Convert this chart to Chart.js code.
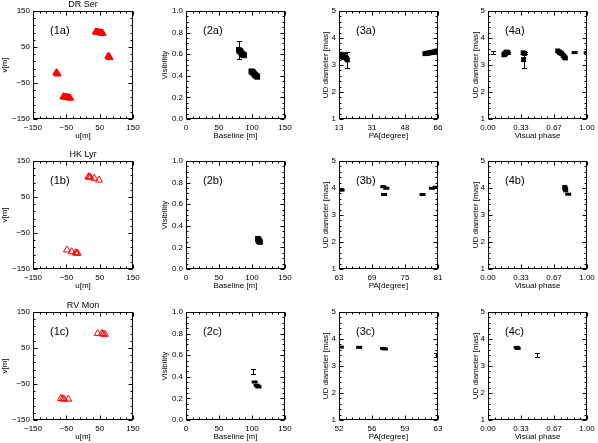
<!DOCTYPE html>
<html><head><meta charset="utf-8">
<script src="https://cdn.jsdelivr.net/npm/chart.js@4.4.1/dist/chart.umd.min.js"></script>
<style>
html,body{margin:0;padding:0;background:#fff;width:598px;height:443px;overflow:hidden;position:relative}
canvas{position:absolute;display:block}
</style></head><body>
<script>
// ---------------- tick labels ----------------
const uvTickLabels = ['−150','−50','50','150'];
const baselineTickLabels = ['0','50','100','150'];
const visTickLabels = ['0.0','0.2','0.4','0.6','0.8','1.0'];
const udTickLabels = ['1','2','3','4','5'];
const paTickLabelsA = ['13','31','48','66'];
const paTickLabelsB = ['63','69','75','81'];
const paTickLabelsC = ['52','56','59','63'];
const phaseTickLabels = ['0.00','0.33','0.67','1.00'];
const starNames = ['DR Ser','HK Lyr','RV Mon'];

// ---------------- (1) uv coverage [m] ----------------
const uvDrU = [38, 41, 44, 47, 50, 53, 56, 59, 76, 78, 80, -38, -41, -44, -47, -50, -53, -56, -59, -76, -78, -80];
const uvDrV = [92, 91, 91, 90, 90, 89, 89, 88, 25, 23, 21, -92, -91, -91, -90, -90, -89, -89, -88, -25, -23, -21];
const uvHkU = [16, 19, 22, 34, 48, -16, -19, -22, -34, -48];
const uvHkV = [106, 106, 105, 102, 97, -106, -106, -105, -102, -97];
const uvRvU = [44, 57, 61, 66, -44, -57, -61, -66];
const uvRvV = [90, 90, 89, 88, -92, -92, -91, -90];

// ---------------- (2) visibility vs baseline ----------------
const visBaseA = [80, 81, 82, 83, 84, 85, 86, 87, 88, 99, 100, 101, 102, 103, 104, 105, 106, 107, 108];
const visA     = [0.64, 0.63, 0.63, 0.62, 0.61, 0.60, 0.60, 0.59, 0.59, 0.44, 0.44, 0.43, 0.43, 0.42, 0.41, 0.41, 0.40, 0.40, 0.39];
const visErrA  = [0.08, 0.01, 0.01, 0.01, 0.01, 0.01, 0.01, 0.01, 0.01, 0.01, 0.01, 0.01, 0.01, 0.01, 0.01, 0.01, 0.01, 0.01, 0.01];
const visBaseB = [109, 110, 111, 112, 110];
const visB     = [0.28, 0.27, 0.26, 0.25, 0.26];
const visErrB  = [0.01, 0.01, 0.01, 0.01, 0.01];
const visBaseCBar = [102];
const visCBar     = [0.449];
const visErrCBar  = [0.022];
const visBaseC = [104, 107, 109, 110];
const visC     = [0.352, 0.322, 0.312, 0.306];

// ---------------- (3) UD diameter vs PA ----------------
const pa3a  = [13.8, 14.4, 15.0, 15.6, 16.2, 16.8, 17.5, 59.0, 59.8, 60.6, 61.4, 62.2, 63.0, 63.8, 64.6, 65.4];
const ud3a  = [3.40, 3.36, 3.30, 3.38, 3.28, 3.26, 3.19, 3.42, 3.43, 3.44, 3.45, 3.46, 3.47, 3.48, 3.50, 3.52];
const err3a = [0.08, 0.06, 0.06, 0.08, 0.06, 0.06, 0.31, 0.05, 0.05, 0.04, 0.05, 0.05, 0.04, 0.05, 0.05, 0.05];
const pa3b  = [63.46, 71.05, 71.6, 71.2, 78.2, 79.9, 80.6];
const ud3b  = [3.92, 4.05, 3.99, 3.76, 3.76, 3.99, 4.03];
const pa3c  = [52.2, 54.24, 56.9, 57.1];
const ud3c  = [3.70, 3.69, 3.65, 3.63];
const pa3cBar  = [62.8];
const ud3cBar  = [3.41];
const err3cBar = [0.07];

// ---------------- (4) UD diameter vs visual phase ----------------
const ph4a  = [0.16, 0.17, 0.18, 0.19, 0.20, 0.355, 0.37, 0.36, 0.705, 0.72, 0.73, 0.745, 0.76, 0.77, 0.78];
const ud4a  = [3.38, 3.42, 3.46, 3.48, 3.46, 3.45, 3.43, 3.20, 3.52, 3.48, 3.45, 3.42, 3.35, 3.30, 3.26];
const err4a = [0.04, 0.04, 0.04, 0.04, 0.04, 0.04, 0.04, 0.31, 0.04, 0.04, 0.04, 0.04, 0.04, 0.04, 0.04];
const ph4aDash = [0.875, 0.997];
const ud4aDash = [3.46, 3.46];
const ph4aBar  = [0.05];
const ud4aBar  = [3.47];
const err4aBar = [0.05];
const ph4b  = [0.775, 0.78, 0.785];
const ud4b  = [4.02, 3.97, 3.93];
const ph4bDash = [0.81];
const ud4bDash = [3.77];
const ph4c  = [0.29, 0.30];
const ud4c  = [3.69, 3.65];
const ph4cBar  = [0.49];
const ud4cBar  = [3.42];
const err4cBar = [0.08];

// ---------------- layout / drawing ----------------
const FONT = "'Liberation Sans', Arial, sans-serif";
const num = s => parseFloat(String(s).replace('−', '-'));
const tickVals = labels => {
  const a = num(labels[0]), b = num(labels[labels.length - 1]);
  return labels.map((_, i) => a + i * (b - a) / (labels.length - 1));
};
const COLS = [{L:33, W:100, yw:33}, {L:186, W:99, yw:26}, {L:339, W:99, yw:18}, {L:488, W:99, yw:17}];
const ROWS = [11, 161, 312];
const PH = 108, XH = 22, TOPPAD = 11, RIGHTPAD = 12;

const idlPlugin = {
  id: 'idl',
  afterDatasetsDraw(chart) {
    const {ctx, chartArea: a} = chart;
    const xs = chart.scales.x, ys = chart.scales.y;
    ctx.save();
    ctx.beginPath(); ctx.rect(a.left, a.top, a.right - a.left, a.bottom - a.top); ctx.clip();
    ctx.strokeStyle = '#000'; ctx.lineWidth = 1;
    chart.data.datasets.forEach(d => {
      if (!d.err) return;
      d.data.forEach((p, i) => {
        const e = d.err[i]; if (!e) return;
        const px = Math.round(xs.getPixelForValue(p.x)) + 0.5;
        const y1 = Math.round(ys.getPixelForValue(p.y - e)) + 0.5;
        const y2 = Math.round(ys.getPixelForValue(p.y + e)) + 0.5;
        ctx.beginPath();
        ctx.moveTo(px, y1); ctx.lineTo(px, y2);
        ctx.moveTo(px - 2.5, y1); ctx.lineTo(px + 2.5, y1);
        ctx.moveTo(px - 2.5, y2); ctx.lineTo(px + 2.5, y2);
        ctx.stroke();
      });
    });
    ctx.restore();
  },
  afterDraw(chart) {
    const o = chart.options.plugins.idl;
    const {ctx, chartArea: a} = chart;
    const xs = chart.scales.x, ys = chart.scales.y;
    ctx.save();
    ctx.strokeStyle = '#000'; ctx.lineWidth = 1;
    const l = Math.round(a.left) + 0.5, r = Math.round(a.right) - 0.5;
    const t = Math.round(a.top) + 0.5, b = Math.round(a.bottom) - 0.5;
    ctx.strokeRect(l, t, r - l, b - t);
    const ticksOf = (majors, nMinor) => {
      const out = [];
      majors.forEach((v, i) => {
        out.push([v, 4]);
        if (i < majors.length - 1) {
          const st = (majors[i + 1] - v) / nMinor;
          for (let k = 1; k < nMinor; k++) out.push([v + k * st, 2]);
        }
      });
      return out;
    };
    ctx.beginPath();
    ticksOf(o.xMajors, o.xMinor).forEach(([v, len]) => {
      const px = Math.round(xs.getPixelForValue(v)) + 0.5;
      ctx.moveTo(px, b); ctx.lineTo(px, b - len);
      ctx.moveTo(px, t); ctx.lineTo(px, t + len);
    });
    ticksOf(o.yMajors, o.yMinor).forEach(([v, len]) => {
      const py = Math.round(ys.getPixelForValue(v)) + 0.5;
      ctx.moveTo(l, py); ctx.lineTo(l + len, py);
      ctx.moveTo(r, py); ctx.lineTo(r - len, py);
    });
    ctx.stroke();
    ctx.fillStyle = '#000';
    ctx.textBaseline = 'middle'; ctx.textAlign = 'left';
    ctx.font = `11px ${FONT}`;
    ctx.fillText(o.tag, a.left + 17, a.top + 19.5);
    if (o.title) {
      ctx.font = `9px ${FONT}`; ctx.textAlign = 'center';
      ctx.fillText(o.title, (a.left + a.right) / 2, a.top - 6.5);
    }
    ctx.restore();
  }
};

function series(kind, xv, yv, errs) {
  const d = { data: xv.map((x, i) => ({x, y: yv[i]})), err: errs || null, clip: 0, pointHoverRadius: 0 };
  if (kind === 'triFill') Object.assign(d, {pointStyle: 'triangle', pointRadius: 4, pointBackgroundColor: '#ff0000', pointBorderColor: '#ff0000', pointBorderWidth: 1});
  if (kind === 'triOpen') Object.assign(d, {pointStyle: 'triangle', pointRadius: 4, pointBackgroundColor: 'rgba(0,0,0,0)', pointBorderColor: '#ff0000', pointBorderWidth: 1});
  if (kind === 'square') Object.assign(d, {pointStyle: 'rect', pointRadius: 4, pointBackgroundColor: '#000', pointBorderColor: '#000', pointBorderWidth: 0});
  if (kind === 'squareS') Object.assign(d, {pointStyle: 'rect', pointRadius: 3.5, pointBackgroundColor: '#000', pointBorderColor: '#000', pointBorderWidth: 0});
  if (kind === 'dash') Object.assign(d, {pointStyle: 'line', pointRadius: 3, pointBackgroundColor: '#000', pointBorderColor: '#000', pointBorderWidth: 3});
  if (kind === 'bar') Object.assign(d, {pointRadius: 0, pointBorderWidth: 0});
  return d;
}

function panel(col, row, p) {
  const C = COLS[col], T = ROWS[row];
  const cv = document.createElement('canvas');
  const w = C.yw + C.W + RIGHTPAD, h = TOPPAD + PH + XH;
  cv.width = w; cv.height = h;
  cv.style.left = (C.L - C.yw) + 'px'; cv.style.top = (T - TOPPAD) + 'px';
  cv.style.width = w + 'px'; cv.style.height = h + 'px';
  document.body.appendChild(cv);
  const xv = tickVals(p.xLabels), yv = tickVals(p.yLabels);
  const tickFont = {family: FONT, size: 8};
  new Chart(cv, {
    type: 'scatter',
    data: {datasets: p.datasets},
    plugins: [idlPlugin],
    options: {
      responsive: false, animation: false, devicePixelRatio: 1, events: [],
      layout: {padding: {top: TOPPAD, right: RIGHTPAD, left: 0, bottom: 0}},
      plugins: {legend: {display: false}, tooltip: {enabled: false},
        idl: {tag: p.tag, title: p.title, xMajors: xv, yMajors: yv, xMinor: p.xMinor, yMinor: p.yMinor}},
      scales: {
        x: {type: 'linear', position: 'bottom', min: xv[0], max: xv[xv.length - 1],
          grid: {display: false, drawTicks: false}, border: {display: false},
          ticks: {font: tickFont, color: '#000', padding: 4, maxRotation: 0, autoSkip: false,
            callback: (v, i) => p.xLabels[i]},
          afterBuildTicks: s => { s.ticks = xv.map(v => ({value: v})); },
          afterFit: s => { s.height = XH; },
          title: {display: true, text: p.xTitle, font: tickFont, color: '#000', padding: 0}},
        y: {type: 'linear', position: 'left', min: yv[0], max: yv[yv.length - 1],
          grid: {display: false, drawTicks: false}, border: {display: false},
          ticks: {font: tickFont, color: '#000', padding: 3, autoSkip: false,
            callback: (v, i) => p.yLabels[i]},
          afterBuildTicks: s => { s.ticks = yv.map(v => ({value: v})); },
          afterFit: s => { s.width = C.yw; },
          title: {display: true, text: p.yTitle, font: tickFont, color: '#000', padding: 0}}
      }
    }
  });
}

const rowsLetters = ['a', 'b', 'c'];
const uvSets = [
  [series('triFill', uvDrU, uvDrV)],
  [series('triOpen', uvHkU, uvHkV)],
  [series('triOpen', uvRvU, uvRvV)]
];
const visSets = [
  [series('square', visBaseA, visA, visErrA)],
  [series('square', visBaseB, visB, visErrB)],
  [series('dash', visBaseC, visC), series('bar', visBaseCBar, visCBar, visErrCBar)]
];
const paSets = [
  [series('squareS', pa3a, ud3a, err3a)],
  [series('dash', pa3b, ud3b)],
  [series('dash', pa3c, ud3c), series('bar', pa3cBar, ud3cBar, err3cBar)]
];
const paLabels = [paTickLabelsA, paTickLabelsB, paTickLabelsC];
const phSets = [
  [series('squareS', ph4a, ud4a, err4a), series('dash', ph4aDash, ud4aDash), series('bar', ph4aBar, ud4aBar, err4aBar)],
  [series('squareS', ph4b, ud4b), series('dash', ph4bDash, ud4bDash)],
  [series('dash', ph4c, ud4c), series('bar', ph4cBar, ud4cBar, err4cBar)]
];

for (let r = 0; r < 3; r++) {
  const L = rowsLetters[r];
  panel(0, r, {tag: '(1' + L + ')', title: starNames[r], xLabels: uvTickLabels, yLabels: uvTickLabels,
    xTitle: 'u[m]', yTitle: 'v[m]', xMinor: 5, yMinor: 5, datasets: uvSets[r]});
  panel(1, r, {tag: '(2' + L + ')', xLabels: baselineTickLabels, yLabels: visTickLabels,
    xTitle: 'Baseline [m]', yTitle: 'Visibility', xMinor: 5, yMinor: 4, datasets: visSets[r]});
  panel(2, r, {tag: '(3' + L + ')', xLabels: paLabels[r], yLabels: udTickLabels,
    xTitle: 'PA[degree]', yTitle: 'UD diameter [mas]', xMinor: 5, yMinor: 5, datasets: paSets[r]});
  panel(3, r, {tag: '(4' + L + ')', xLabels: phaseTickLabels, yLabels: udTickLabels,
    xTitle: 'Visual phase', yTitle: 'UD diameter [mas]', xMinor: 5, yMinor: 5, datasets: phSets[r]});
}
</script>
</body></html>
